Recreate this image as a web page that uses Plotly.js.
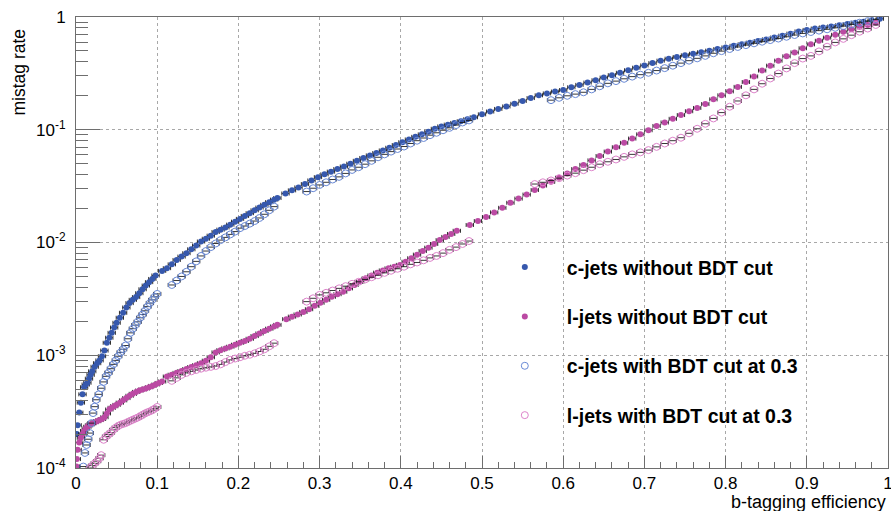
<!DOCTYPE html>
<html>
<head>
<meta charset="utf-8">
<script src="https://cdn.plot.ly/plotly-3.0.1.min.js"></script>
<style>html,body{margin:0;padding:0;background:#fff;}#chart{width:891px;height:511px;}</style>
</head>
<body>
<div id="chart"></div>
<script>
// ---- data ----
const seriesNames = ["c-jets without BDT cut", "l-jets without BDT cut", "c-jets with BDT cut at 0.3", "l-jets with BDT cut at 0.3"];

const cNoCutX = [0.001,0.002,0.004,0.006,0.008,0.010,0.012,0.014,0.016,0.018,0.020,0.023,0.026,0.029,0.032,0.035,0.038,0.041,0.044,0.047,0.050,0.054,0.058,0.062,0.066,0.070,0.074,0.078,0.082,0.086,0.090,0.094,0.098,
 0.106,0.112,0.118,0.124,0.130,0.136,0.142,0.148,0.154,0.160,0.166,0.172,0.178,0.184,0.190,0.196,0.202,0.208,0.214,0.220,0.226,0.232,0.238,0.244,0.248,
 0.258,0.266,0.274,0.282,0.290,0.298,0.306,0.314,0.322,0.330,0.338,0.346,0.354,0.362,0.370,0.378,0.386,0.394,0.402,0.410,0.418,0.426,0.434,0.442,0.450,0.458,0.466,0.474,0.482,0.490,
 0.500,0.510,0.520,0.530,0.540,0.550,0.560,0.570,0.580,0.590,0.600,0.610,0.620,0.630,0.640,0.650,0.660,0.670,0.680,0.690,0.700,0.710,0.720,0.730,0.740,0.750,0.760,0.770,0.780,0.790,0.800,0.810,0.820,0.830,0.840,0.850,0.860,0.870,0.880,0.890,0.900,0.910,0.920,0.930,0.940,0.950,0.960,0.970,0.980,0.990];
const cNoCutY = [2.0e-4,2.4e-4,3.1e-4,3.8e-4,4.5e-4,5.2e-4,5.5e-4,5.7e-4,6.2e-4,6.7e-4,7.2e-4,7.9e-4,8.5e-4,9.0e-4,9.8e-4,1.10e-3,1.29e-3,1.43e-3,1.58e-3,1.76e-3,1.94e-3,2.15e-3,2.38e-3,2.65e-3,2.90e-3,3.10e-3,3.28e-3,3.55e-3,3.85e-3,4.15e-3,4.45e-3,4.75e-3,5.10e-3,
 5.6e-3,5.92e-3,6.4e-3,7.0e-3,7.5e-3,8.04e-3,8.7e-3,9.4e-3,1.02e-2,1.08e-2,1.15e-2,1.24e-2,1.30e-2,1.36e-2,1.44e-2,1.53e-2,1.62e-2,1.72e-2,1.82e-2,1.93e-2,2.04e-2,2.16e-2,2.28e-2,2.40e-2,2.48e-2,
 2.72e-2,2.90e-2,3.08e-2,3.30e-2,3.55e-2,3.80e-2,4.02e-2,4.25e-2,4.48e-2,4.72e-2,5.0e-2,5.3e-2,5.62e-2,5.92e-2,6.22e-2,6.55e-2,6.92e-2,7.32e-2,7.75e-2,8.2e-2,8.65e-2,9.1e-2,9.6e-2,0.102,0.107,0.111,0.115,0.119,0.124,0.129,
 0.137,0.145,0.153,0.161,0.170,0.180,0.191,0.202,0.210,0.218,0.225,0.238,0.250,0.262,0.275,0.290,0.305,0.320,0.337,0.355,0.372,0.390,0.410,0.427,0.442,0.457,0.472,0.487,0.503,0.520,0.537,0.555,0.573,0.592,0.612,0.633,0.657,0.683,0.712,0.745,0.768,0.790,0.808,0.823,0.845,0.865,0.887,0.908,0.935,0.965];

const lNoCutX = [0.0005,0.001,0.002,0.004,0.006,0.008,0.010,0.012,0.014,0.016,0.018,0.020,0.023,0.026,0.029,0.032,0.035,0.038,0.041,0.044,0.047,0.050,0.054,0.058,0.062,0.066,0.070,0.074,0.078,0.082,0.086,0.090,0.094,0.098,0.102,0.106,
 0.112,0.118,0.124,0.130,0.136,0.142,0.148,0.154,0.160,0.166,0.172,0.178,0.184,0.190,0.196,0.202,0.208,0.214,0.220,0.226,0.232,0.238,0.244,0.248,
 0.259,0.266,0.273,0.280,0.287,0.294,0.301,0.308,0.315,0.322,0.329,0.336,0.343,0.350,0.357,0.364,0.371,0.378,0.385,0.392,0.399,0.406,0.413,0.420,0.427,0.434,0.441,0.448,0.455,0.462,0.469,
 0.485,0.495,0.505,0.515,0.525,0.535,0.545,0.555,0.565,0.575,0.585,0.595,0.605,0.615,0.625,0.635,0.645,0.655,0.665,0.675,0.685,0.695,0.705,0.715,0.725,0.735,0.745,0.755,0.765,0.775,0.785,0.795,0.805,0.815,0.825,0.835,0.845,0.855,0.865,0.875,0.885,0.895,0.905,0.915,0.925,0.935,0.945,0.955,0.965,0.975,0.985];
const lNoCutY = [1.03e-4,1.2e-4,1.45e-4,1.68e-4,1.85e-4,2.0e-4,2.13e-4,2.24e-4,2.32e-4,2.39e-4,2.44e-4,2.49e-4,2.55e-4,2.6e-4,2.66e-4,2.72e-4,2.82e-4,3.05e-4,3.3e-4,3.42e-4,3.53e-4,3.63e-4,3.8e-4,3.98e-4,4.17e-4,4.37e-4,4.55e-4,4.73e-4,4.87e-4,4.98e-4,5.08e-4,5.2e-4,5.35e-4,5.5e-4,5.68e-4,5.85e-4,
 6.47e-4,6.72e-4,6.98e-4,7.25e-4,7.55e-4,7.85e-4,8.15e-4,8.5e-4,8.95e-4,9.6e-4,1.06e-3,1.11e-3,1.15e-3,1.19e-3,1.24e-3,1.29e-3,1.34e-3,1.40e-3,1.48e-3,1.56e-3,1.64e-3,1.72e-3,1.80e-3,1.86e-3,
 2.09e-3,2.2e-3,2.3e-3,2.42e-3,2.56e-3,2.75e-3,2.92e-3,3.1e-3,3.3e-3,3.48e-3,3.66e-3,3.92e-3,4.2e-3,4.5e-3,4.82e-3,5.1e-3,5.4e-3,5.65e-3,5.9e-3,6.1e-3,6.33e-3,6.75e-3,7.25e-3,7.8e-3,8.4e-3,9.0e-3,9.7e-3,1.05e-2,1.12e-2,1.19e-2,1.27e-2,
 1.43e-2,1.55e-2,1.68e-2,1.85e-2,2.03e-2,2.25e-2,2.45e-2,2.66e-2,2.92e-2,3.2e-2,3.45e-2,3.75e-2,4.1e-2,4.48e-2,4.88e-2,5.35e-2,5.85e-2,6.4e-2,7.0e-2,7.65e-2,8.35e-2,9.1e-2,9.9e-2,0.108,0.116,0.125,0.135,0.146,0.156,0.169,0.186,0.202,0.219,0.240,0.265,0.297,0.335,0.370,0.410,0.448,0.485,0.528,0.572,0.615,0.656,0.695,0.740,0.780,0.820,0.850,0.890];

const cCutX = [0.009,0.011,0.013,0.015,0.017,0.019,0.021,0.023,0.025,0.028,0.031,0.034,0.037,0.040,0.043,0.046,0.049,0.052,0.055,0.058,0.061,0.064,0.067,0.070,0.073,0.076,0.079,0.082,0.085,0.088,0.091,0.094,0.097,0.100,
 0.118,0.124,0.130,0.136,0.142,0.148,0.154,0.160,0.166,0.172,0.178,0.184,0.190,0.196,0.202,0.208,0.214,0.220,0.226,0.232,0.238,0.244,
 0.284,0.292,0.300,0.308,0.316,0.324,0.332,0.340,0.348,0.356,0.364,0.372,0.380,0.388,0.396,0.404,0.412,0.420,0.428,0.436,0.444,0.452,0.460,0.468,0.476,0.484,
 0.585,0.595,0.605,0.615,0.625,0.635,0.645,0.655,0.665,0.675,0.685,0.695,0.705,0.715,0.725,0.735,0.745,0.755,0.765,0.775,0.785,0.795,0.805,0.815,0.825,0.835,0.845,0.855,0.865,0.875,0.885,0.895,0.905,0.915,0.925,0.935,0.945,0.955,0.965,0.975,0.985];
const cCutY = [1.03e-4,1.36e-4,1.6e-4,1.8e-4,2.04e-4,2.5e-4,3.07e-4,3.5e-4,4.03e-4,4.5e-4,5.1e-4,5.8e-4,6.5e-4,7.0e-4,7.6e-4,8.3e-4,9.0e-4,9.8e-4,1.06e-3,1.13e-3,1.22e-3,1.40e-3,1.58e-3,1.72e-3,1.85e-3,1.98e-3,2.15e-3,2.30e-3,2.48e-3,2.70e-3,2.90e-3,3.1e-3,3.3e-3,3.5e-3,
 4.2e-3,4.6e-3,5.0e-3,5.5e-3,6.1e-3,6.8e-3,7.6e-3,8.4e-3,9.1e-3,9.8e-3,1.05e-2,1.11e-2,1.18e-2,1.25e-2,1.34e-2,1.40e-2,1.47e-2,1.55e-2,1.65e-2,1.78e-2,1.93e-2,2.08e-2,
 2.83e-2,3.03e-2,3.24e-2,3.42e-2,3.62e-2,3.82e-2,4.1e-2,4.4e-2,4.65e-2,4.95e-2,5.3e-2,5.7e-2,6.05e-2,6.4e-2,6.75e-2,7.1e-2,7.55e-2,8.0e-2,8.45e-2,8.95e-2,9.4e-2,9.9e-2,0.104,0.110,0.116,0.121,
 0.183,0.192,0.200,0.207,0.215,0.228,0.243,0.258,0.270,0.283,0.296,0.308,0.320,0.335,0.352,0.370,0.390,0.410,0.430,0.452,0.477,0.498,0.520,0.542,0.563,0.584,0.604,0.624,0.644,0.668,0.692,0.715,0.736,0.757,0.778,0.802,0.830,0.860,0.890,0.920,0.952];

const lCutX = [0.017,0.020,0.023,0.026,0.029,0.031,
 0.034,0.037,0.040,0.043,0.046,0.049,0.052,0.055,0.058,0.061,0.064,0.067,0.070,0.073,0.076,0.079,0.082,0.085,0.088,0.091,0.094,0.097,0.100,
 0.118,0.124,0.130,0.136,0.142,0.148,0.154,0.160,0.166,0.172,0.178,0.184,0.190,0.196,0.202,0.208,0.214,0.220,0.226,0.232,0.238,0.244,
 0.284,0.292,0.300,0.308,0.316,0.324,0.332,0.340,0.348,0.356,0.364,0.372,0.380,0.388,0.396,0.404,0.412,0.420,0.428,0.436,0.444,0.452,0.460,0.468,0.476,0.484,
 0.565,0.575,0.585,0.595,0.605,0.615,0.625,0.635,0.645,0.655,0.665,0.675,0.685,0.695,0.705,0.715,0.725,0.735,0.745,0.755,0.765,0.775,0.785,0.795,0.805,0.815,0.825,0.835,0.845,0.855,0.865,0.875,0.885,0.895,0.905,0.915,0.925,0.935,0.945,0.955,0.965,0.975,0.985];
const lCutY = [1.0e-4,1.05e-4,1.1e-4,1.15e-4,1.22e-4,1.3e-4,
 1.78e-4,1.9e-4,1.98e-4,2.06e-4,2.18e-4,2.28e-4,2.36e-4,2.42e-4,2.46e-4,2.5e-4,2.56e-4,2.62e-4,2.68e-4,2.74e-4,2.8e-4,2.88e-4,2.96e-4,3.05e-4,3.12e-4,3.18e-4,3.26e-4,3.36e-4,3.48e-4,
 5.93e-4,6.3e-4,6.7e-4,6.98e-4,7.2e-4,7.4e-4,7.6e-4,7.75e-4,7.88e-4,8.02e-4,8.3e-4,8.7e-4,9.1e-4,9.35e-4,9.6e-4,9.9e-4,1.01e-3,1.04e-3,1.08e-3,1.13e-3,1.2e-3,1.28e-3,
 2.99e-3,3.2e-3,3.43e-3,3.58e-3,3.75e-3,3.92e-3,4.1e-3,4.3e-3,4.48e-3,4.7e-3,4.92e-3,5.12e-3,5.38e-3,5.62e-3,5.85e-3,6.1e-3,6.4e-3,6.65e-3,6.95e-3,7.3e-3,7.6e-3,8.05e-3,8.6e-3,9.1e-3,9.7e-3,1.03e-2,
 3.3e-2,3.42e-2,3.55e-2,3.72e-2,3.92e-2,4.12e-2,4.38e-2,4.65e-2,4.95e-2,5.2e-2,5.45e-2,5.75e-2,6.05e-2,6.3e-2,6.6e-2,7.05e-2,7.55e-2,8.0e-2,8.5e-2,9.3e-2,0.102,0.113,0.126,0.142,0.160,0.180,0.202,0.228,0.256,0.285,0.315,0.350,0.390,0.428,0.452,0.495,0.545,0.595,0.640,0.690,0.740,0.790,0.850];

const yTickVals = [1e-4, 1e-3, 1e-2, 1e-1, 1];
const yTickText = ["10<sup>-4</sup>", "10<sup>-3</sup>", "10<sup>-2</sup>", "10<sup>-1</sup>", "1"];
const xTickVals = [0, 0.1, 0.2, 0.3, 0.4, 0.5, 0.6, 0.7, 0.8, 0.9, 1];
const xTickText = ["0", "0.1", "0.2", "0.3", "0.4", "0.5", "0.6", "0.7", "0.8", "0.9", "1"];

// ---- styling ----
const errX = {type: 'constant', value: 0.0045, color: 'rgba(20,20,20,0.85)', thickness: 1, width: 2};
function tr(x, y, name, grp, marker) {
  return {x: x, y: y, name: name, legendgroup: grp, type: 'scatter', mode: 'markers',
          marker: marker, error_x: errX, hoverinfo: 'x+y'};
}
const traces = [
  tr(cNoCutX, cNoCutY, seriesNames[0], 'a', {symbol: 'circle', size: 6, color: '#3658ad', line: {width: 0}}),
  tr(lNoCutX, lNoCutY, seriesNames[1], 'b', {symbol: 'circle', size: 6, color: '#bb4aa3', line: {width: 0}}),
  tr(cCutX, cCutY, seriesNames[2], 'c', {symbol: 'circle-open', size: 7, color: '#6a8ad6', line: {width: 1}}),
  tr(lCutX, lCutY, seriesNames[3], 'd', {symbol: 'circle-open', size: 7, color: '#de84cb', line: {width: 1}})
];

const frame = '#6e6e6e';
const layout = {
  width: 891, height: 511,
  margin: {l: 76, r: 3, t: 17, b: 43},
  paper_bgcolor: '#fff', plot_bgcolor: '#fff',
  font: {family: 'Liberation Sans, Arial, sans-serif', color: '#000'},
  showlegend: true,
  legend: {x: 0.501, y: 0.488, xanchor: 'left', yanchor: 'top', bgcolor: 'rgba(0,0,0,0)', borderwidth: 0,
           font: {size: 19.5, family: 'Liberation Sans, Arial, sans-serif', weight: 'bold'},
           tracegroupgap: 21, itemwidth: 74, traceorder: 'grouped'},
  xaxis: {range: [0, 1], tickvals: xTickVals, ticktext: xTickText, ticks: 'inside', ticklen: 12, tickwidth: 1,
          tickcolor: frame, showline: true, linecolor: frame, linewidth: 1, mirror: true,
          showgrid: true, gridcolor: '#a8a8a8', griddash: 'dot', gridwidth: 1, zeroline: false,
          tickfont: {size: 17}, ticklabelstandoff: 0, ticklabeloverflow: 'allow',
          minor: {dtick: 0.02, ticks: 'inside', ticklen: 6, tickcolor: frame, showgrid: false}},
  yaxis: {type: 'log', range: [-4, 0], tickvals: yTickVals, ticktext: yTickText, ticks: 'inside', ticklen: 24, tickwidth: 1,
          tickcolor: frame, showline: true, linecolor: frame, linewidth: 1, mirror: true,
          showgrid: true, gridcolor: '#a8a8a8', griddash: 'dot', gridwidth: 1, zeroline: false,
          tickfont: {size: 17}, ticklabelstandoff: 6, ticklabeloverflow: 'allow',
          minor: {dtick: 'D1', ticks: 'inside', ticklen: 12, tickcolor: frame, showgrid: false}},
  annotations: [
    {text: 'mistag rate', xref: 'paper', yref: 'paper', x: 0, y: 1, xanchor: 'center', yanchor: 'top',
     xshift: -58, yshift: -10, textangle: -90, showarrow: false, font: {size: 17.5}},
    {text: 'b-tagging efficiency', xref: 'paper', yref: 'paper', x: 1, y: 0, xanchor: 'right', yanchor: 'middle',
     yshift: -34, showarrow: false, font: {size: 18}}
  ]
};

Plotly.newPlot('chart', traces, layout, {displayModeBar: false, staticPlot: true});
</script>
</body>
</html>
